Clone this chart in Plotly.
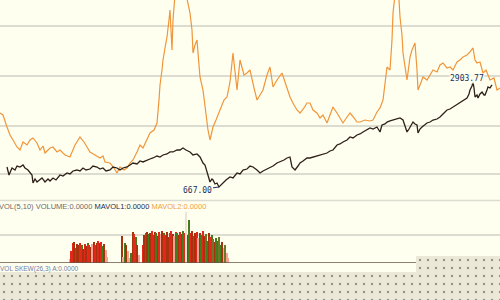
import plotly.graph_objects as go

# ---- main panel: index line (black) ----
black_day = [7, 9, 12, 15, 17, 20, 23, 25, 28, 30, 32, 33, 35, 37, 40, 42, 45, 48, 50, 53, 56, 60, 63, 67, 70, 73,
             77, 80, 83, 86, 90, 93, 97, 100, 103, 106, 110, 113, 117, 120, 123, 127, 130, 133, 137, 140, 143, 147,
             150, 153, 157, 160, 163, 167, 170, 173, 177, 180, 183, 186, 190, 193, 197, 200, 203, 205, 207, 209, 210,
             212, 213, 215, 217, 219, 221, 223, 226, 230, 233, 237, 240, 243, 247, 250, 253, 257, 260, 263, 265, 268,
             270, 273, 277, 280, 284, 287, 290, 292, 295, 298, 300, 303, 307, 310, 313, 317, 320, 323, 327, 330, 333,
             337, 340, 343, 347, 350, 353, 357, 360, 363, 367, 370, 373, 377, 380, 382, 385, 387, 390, 393, 397, 400,
             403, 405, 407, 409, 410, 412, 413, 415, 417, 418, 420, 422, 425, 427, 430, 433, 437, 440, 443, 447, 450,
             453, 457, 460, 463, 467, 469, 470, 472, 473, 474, 475, 477, 478, 480, 482, 484, 485, 487, 488, 490, 492]
black_val = [1093, 923, 1072, 1029, 1114, 1093, 1136, 1072, 1029, 987, 923, 752, 837, 774, 816, 859, 774, 837, 795,
             859, 816, 923, 901, 965, 944, 1008, 1029, 1008, 1072, 1029, 1050, 1114, 1093, 1050, 1072, 1008, 1029,
             1093, 1072, 1029, 1072, 1093, 1136, 1178, 1157, 1221, 1200, 1242, 1263, 1285, 1327, 1306, 1349, 1370,
             1413, 1413, 1455, 1455, 1498, 1455, 1413, 1349, 1370, 1306, 1178, 1136, 965, 859, 774, 837, 816, 731,
             752, 667, 710, 774, 816, 880, 859, 965, 944, 1029, 1050, 1114, 1093, 1029, 965, 1008, 1029, 1072, 1093,
             1114, 1178, 1200, 1242, 1285, 1306, 1093, 1029, 1114, 1178, 1221, 1285, 1285, 1306, 1327, 1349, 1370,
             1391, 1434, 1455, 1562, 1583, 1626, 1668, 1732, 1711, 1775, 1796, 1839, 1881, 1924, 1902, 1945, 1839,
             1988, 2009, 2051, 2073, 2094, 2115, 2137, 2094, 1988, 1839, 1902, 1945, 2009, 2051, 2009, 1988, 1817,
             1902, 1945, 1988, 2030, 2051, 2094, 2115, 2158, 2222, 2307, 2328, 2371, 2414, 2456, 2499, 2563, 2648,
             2733, 2818, 2903.77, 2776, 2584, 2627, 2563, 2648, 2691, 2627, 2627, 2733, 2797, 2776, 2840]

# ---- main panel: comparison line (orange) ----
orange_day = [0, 3, 7, 10, 13, 17, 20, 23, 27, 30, 33, 37, 40, 43, 45, 50, 53, 57, 60, 65, 70, 73, 75, 80, 84, 87,
              90, 95, 100, 103, 105, 110, 114, 117, 120, 124, 127, 130, 133, 137, 140, 143, 147, 150, 154, 157, 159,
              160, 162, 163, 165, 167, 169, 170, 172, 173, 175, 178, 182, 186, 188, 190, 192, 193, 195, 197, 199, 200,
              203, 206, 208, 210, 213, 216, 220, 224, 227, 230, 233, 235, 237, 240, 244, 247, 250, 254, 257, 260, 263,
              267, 270, 273, 277, 282, 286, 290, 294, 297, 300, 304, 307, 310, 313, 317, 320, 323, 327, 330, 333, 337,
              340, 343, 347, 350, 354, 357, 360, 365, 370, 373, 377, 380, 383, 385, 387, 390, 392, 393, 395, 397, 399,
              400, 402, 403, 405, 407, 409, 410, 412, 415, 417, 418, 420, 423, 427, 430, 433, 437, 440, 443, 447, 450,
              453, 457, 460, 463, 467, 470, 473, 475, 477, 480, 483, 486, 490, 494, 497, 500]
orange_val = [2243, 2201, 1945, 1775, 1668, 1519, 1455, 1626, 1562, 1668, 1711, 1604, 1455, 1540, 1391, 1498, 1519,
              1413, 1455, 1349, 1306, 1455, 1562, 1732, 1626, 1519, 1413, 1349, 1285, 1327, 1200, 1178, 1072, 965,
              1093, 1029, 1072, 1178, 1242, 1413, 1562, 1498, 1668, 1817, 1881, 2030, 2520, 2840, 3159, 3372, 3628,
              3862, 4224, 4437, 3585, 4224, 4757, 5076, 5183, 4757, 4544, 4373, 4011, 3521, 3692, 3798, 3266, 3010,
              2733, 2201, 1881, 1668, 1945, 2094, 2307, 2520, 2584, 2904, 3521, 3159, 2733, 3372, 3053, 3095, 3159,
              2776, 2520, 2627, 2733, 3053, 3223, 2797, 2946, 3095, 2840, 2584, 2414, 2307, 2243, 2350, 2456, 2456,
              2307, 2243, 2137, 2201, 2030, 2201, 2371, 2243, 2137, 2030, 2158, 2243, 2137, 2051, 2051, 2094, 2073,
              2094, 2265, 2350, 2520, 2840, 3223, 3159, 3798, 4373, 4757, 4863, 4650, 4288, 3905, 3521, 3266, 2946,
              3266, 3436, 3585, 3734, 3159, 2733, 2840, 3010, 2946, 3053, 3159, 3116, 3266, 3309, 3202, 3223, 3159,
              3330, 3372, 3436, 3479, 3543, 3628, 3372, 3309, 3330, 3095, 3159, 2946, 2989, 2733, 2776]

# ---- volume panel ----
vol_day = [70, 71.5, 73, 74.5, 76, 77.5, 79, 80.5, 82, 83.5, 85, 86.5, 88, 89.5, 91, 92.5, 94, 95.5, 97, 98.5, 100,
           101.5, 103, 104.5, 106, 107.5,
           122, 123.5, 125, 126.5, 128, 129.5, 131, 133, 134.5, 136, 137.5, 139,
           143, 144.5, 146, 147.5, 149, 150.5, 152, 153.5, 155, 156.5, 158, 159.5, 161, 162.5, 164, 165.5, 167,
           168.5, 170, 171.5, 173, 174.5, 176, 177.5, 179, 180.5, 182, 183.5, 185, 186.5, 188, 189.5, 191, 192.5,
           194, 195.5, 197, 198.5, 200, 201.5, 203, 204.5, 206, 207.5, 209, 210.5, 212, 213.5, 215, 216.5, 218,
           219.5, 221, 222.5, 224, 225.5, 227, 228.5]
vol_val = [4, 12, 20, 21, 15, 19, 18, 20, 18, 14, 19, 17, 20, 18, 16, 19, 21, 18, 20, 22, 20, 21, 17, 19, 13, 6,
           27, 6, 20, 18, 12, 5, 10, 31, 29, 26, 18, 8,
           18, 28, 30, 31, 29, 30, 32, 28, 31, 30, 27, 31, 29, 32, 30, 28, 31, 26, 30, 32, 29, 27, 31, 30, 28, 31,
           29, 32, 30, 51, 28, 43, 30, 32, 27, 30, 31, 25, 30, 28, 32, 27, 29, 22, 30, 26, 28, 24, 21, 25, 22, 26,
           18, 21, 15, 18, 10, 5]
vol_kind = list("prrdgddrgdrdgrdpdrdrdrgdpp"
                "dpgdppgdrgdp"
                "rdrdgdrrdgdrpdgrddgrdprgdrdgrwdgrdgdrpdgrdogdrgodgrogdpopp")

vol_label = "VOL(5,10) VOLUME:0.0000"
mavol1_label = "MAVOL1:0.0000"
mavol2_label = "MAVOL2:0.0000"
skew_label = "VOL SKEW(26,3) A:0.0000"

kind_color = {"r": "#e2281a", "d": "#a8320e", "g": "#3f7d1f", "p": "#f2a392", "w": "#efe2d2", "o": "#6c772a"}

BG = "#fffff0"
GRID = "#dcdcd0"

fig = go.Figure()

fig.add_trace(go.Scatter(x=orange_day, y=orange_val, mode="lines",
                         line=dict(color="#f0953a", width=1.2), xaxis="x", yaxis="y"))
fig.add_trace(go.Scatter(x=black_day, y=black_val, mode="lines",
                         line=dict(color="#2e2018", width=1.3), xaxis="x", yaxis="y"))

fig.add_trace(go.Bar(x=vol_day, y=vol_val, width=1.5,
                     marker=dict(color=[kind_color[k] for k in vol_kind], line=dict(width=0)),
                     xaxis="x", yaxis="y2"))

# dotted empty area at the bottom (decoration, own full-page axes)
fig.add_trace(go.Bar(x=[208, 458], y=[28, 44], width=[416, 84], base=[0, 0],
                     marker=dict(color="#ece8d8", line=dict(width=0),
                                 pattern=dict(shape=".", fgcolor="#3c3c36", bgcolor="#ece8d8",
                                              size=8, solidity=0.07)),
                     xaxis="x3", yaxis="y3"))

lo_i = black_val.index(min(black_val))
hi_i = black_val.index(max(black_val))

fig.update_layout(
    width=500, height=300,
    margin=dict(l=0, r=0, t=0, b=0),
    paper_bgcolor=BG, plot_bgcolor="rgba(0,0,0,0)",
    showlegend=False, hovermode=False, bargap=0,
    xaxis=dict(range=[0, 500], domain=[0, 1], visible=False, anchor="y"),
    yaxis=dict(range=[390, 4650], domain=[1 - 200 / 300, 1], showticklabels=False, ticks="",
               tickvals=[944, 1966, 3031, 4096], showgrid=True, gridcolor=GRID, gridwidth=1.5,
               zeroline=False, showline=False),
    yaxis2=dict(range=[0, 63], domain=[1 - 263 / 300, 1 - 200 / 300], showticklabels=False, ticks="",
                tickvals=[28], showgrid=True, gridcolor=GRID, gridwidth=1.5, zeroline=False, anchor="x"),
    xaxis3=dict(range=[0, 500], domain=[0, 1], visible=False, anchor="y3"),
    yaxis3=dict(range=[0, 300], domain=[0, 1], visible=False, anchor="x3"),
    shapes=[
        dict(type="line", xref="paper", yref="paper", x0=0, x1=1, y0=1 - 200.5 / 300, y1=1 - 200.5 / 300,
             line=dict(color=GRID, width=1.5)),
        dict(type="line", xref="x", yref="y2", x0=0, x1=416, y0=0, y1=0,
             line=dict(color="#6a5646", width=1.5)),
    ],
    annotations=[
        dict(x=black_day[lo_i], y=black_val[lo_i], xref="x", yref="y", text=f"{black_val[lo_i]:.2f}",
             showarrow=True, arrowhead=0, arrowwidth=1, arrowcolor="#203060", ax=-22, ay=3,
             font=dict(family="DejaVu Sans Mono", size=8, color="#203060")),
        dict(x=black_day[hi_i], y=black_val[hi_i], xref="x", yref="y", text=f"{black_val[hi_i]:.2f}",
             showarrow=True, arrowhead=0, arrowwidth=1, arrowcolor="#203060", ax=-6, ay=-3,
             bgcolor="rgba(255,255,240,0.85)", borderpad=0,
             font=dict(family="DejaVu Sans Mono", size=8, color="#203060")),
        dict(x=-0.006, y=1 - 206.5 / 300, xref="paper", yref="paper", xanchor="left", yanchor="middle",
             showarrow=False,
             text=(f"<span style='color:#6a6a6a'>{vol_label}</span> "
                   f"<span style='color:#1c2a4e'>{mavol1_label}</span> "
                   f"<span style='color:#f0a040'>{mavol2_label}</span>"),
             font=dict(family="Liberation Sans", size=7.5)),
        dict(x=-0.004, y=1 - 269 / 300, xref="paper", yref="paper", xanchor="left", yanchor="middle",
             showarrow=False, text=skew_label,
             font=dict(family="Liberation Sans", size=6.5, color="#7080a8")),
    ],
)

fig.write_html("out.html")
